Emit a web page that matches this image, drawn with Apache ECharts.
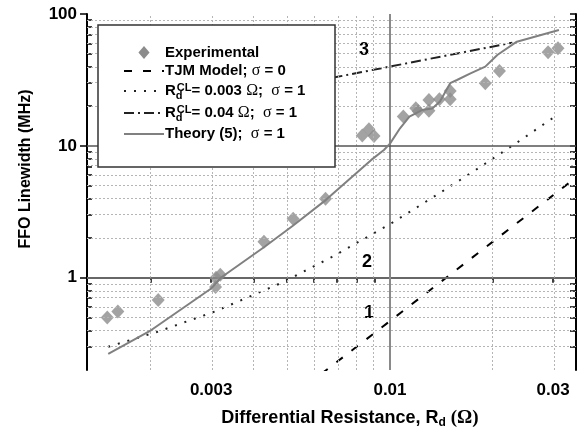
<!DOCTYPE html>
<html lang="en">
<head>
    <meta charset="UTF-8">
    <title>FFO Linewidth</title>
    <style>
        html, body { margin: 0; padding: 0; background: #fff; }
        #main { width: 587px; height: 436px; }
    </style>
    <script src="https://cdn.jsdelivr.net/npm/echarts@6/dist/echarts.min.js"></script>
</head>
<body>
<div id="main"></div>
<script>
    // experimental points (R_d in ohm, linewidth in MHz)
    const expR = [0.00149, 0.0016, 0.0021, 0.00309, 0.0031, 0.00319, 0.00428, 0.00521, 0.00648,
        0.0083, 0.00868, 0.00898, 0.01094, 0.0119, 0.0121, 0.0130, 0.0130, 0.01395,
        0.0150, 0.0150, 0.0190, 0.0209, 0.0290, 0.0310];
    const expF = [0.50, 0.556, 0.678, 0.85, 1.0, 1.054, 1.88, 2.80, 3.97,
        11.97, 13.4, 11.9, 16.7, 19.3, 18.3, 22.3, 18.5, 22.6,
        26.1, 22.6, 29.9, 37.0, 51.3, 55.0];

    const tjmR = [0.0063, 0.01, 0.02, 0.0355];
    const tjmF = [0.187, 0.47, 1.88, 5.92];

    const cl003R = [0.0015, 0.00208, 0.00308, 0.00487, 0.00675, 0.01, 0.01386, 0.01795, 0.02352, 0.0306];
    const cl003F = [0.30, 0.388, 0.556, 0.927, 1.435, 2.55, 4.33, 6.66, 10.6, 16.9];

    const cl04R = [0.004, 0.0069, 0.0228];
    const cl04F = [25.3, 33.1, 60.6];

    const theoryR = [0.0015, 0.002, 0.003, 0.0032, 0.0043, 0.0052, 0.0065, 0.0088, 0.0096, 0.0100,
        0.0107, 0.0114, 0.0124, 0.0133, 0.0140, 0.0150, 0.0157, 0.0172, 0.0190, 0.0206, 0.0235, 0.0312];
    const theoryF = [0.265, 0.40, 0.83, 1.0, 1.72, 2.48, 3.9, 7.8, 9.3, 10.4,
        13.6, 16.7, 18.7, 19.2, 21.7, 29.9, 31.6, 35.5, 39.9, 48.9, 61.7, 75.7];

    const xTickLabels = ['0.003', '0.01', '0.03'];
    const xGrid = [0.002, 0.003, 0.004, 0.005, 0.006, 0.007, 0.008, 0.009, 0.02, 0.03];
    const yTickLabels = ['1', '10', '100'];
    const yGrid = [0.3, 0.4, 0.5, 0.6, 0.7, 0.8, 0.9, 2, 3, 4, 5, 6, 7, 8, 9, 20, 30, 40, 50, 60, 70, 80, 90];

    const xMin = 0.0013, xMax = 0.035, yMin = 0.2, yMax = 100;

    const lg = Math.log10;
    const pairs = (xs, ys) => xs.map((x, i) => [lg(x), lg(ys[i])]);
    const nearestLabel = (labels) => (v) => {
        let best = labels[0], d = Infinity;
        labels.forEach(l => { const dd = Math.abs(lg(+l) - v); if (dd < d) { d = dd; best = l; } });
        return best;
    };

    const font = 'Liberation Sans, Arial, sans-serif';
    const xMajor = xTickLabels.map(v => lg(+v));
    const yMajor = yTickLabels.map(v => lg(+v));
    const xAll = xGrid.map(lg).concat([lg(0.01)]);
    const yAll = yGrid.map(lg).concat(yMajor);

    const names = ['Experimental', 'TJM Model; σ = 0', 'Rd CL = 0.003 Ω; σ = 1', 'Rd CL = 0.04 Ω; σ = 1', 'Theory (5); σ = 1'];
    const legendRich = {
        'Experimental': 'Experimental',
        'TJM Model; σ = 0': 'TJM Model; {s|σ} = 0',
        'Rd CL = 0.003 Ω; σ = 1': 'R{sub|d}{sup|CL}= 0.003 {s|Ω};  {s|σ} = 1',
        'Rd CL = 0.04 Ω; σ = 1': 'R{sub|d}{sup|CL}= 0.04 {s|Ω};  {s|σ} = 1',
        'Theory (5); σ = 1': 'Theory (5);  {s|σ} = 1'
    };
    const legendData = names.map((n, i) => i === 0
        ? { name: n, icon: 'path://M0,0L6,7L0,14L-6,7Z', itemStyle: { opacity: 1 } }
        : { name: n, itemStyle: { opacity: 0 } });

    let chart = echarts.init(document.getElementById('main'));
    let option = {
        animation: false,
        backgroundColor: '#fff',
        grid: { left: 87, right: 11, top: 14, bottom: 66 },
        legend: {
            z: 20,
            orient: 'vertical',
            left: 118,
            top: 40,
            itemWidth: 40,
            itemHeight: 13,
            itemGap: 3,
            symbolKeepAspect: true,
            data: legendData,
            formatter: n => legendRich[n],
            textStyle: {
                fontFamily: font, fontWeight: 'bold', fontSize: 15, color: '#000', padding: [0, 0, 0, -4],
                rich: {
                    s: { fontFamily: 'Liberation Serif, serif', fontSize: 16, fontWeight: 'normal', color: '#000' },
                    sub: { fontFamily: font, fontSize: 11, fontWeight: 'bold', padding: [9, 0, 0, 0], width: 1, color: '#000' },
                    sup: { fontFamily: font, fontSize: 11, fontWeight: 'bold', padding: [0, 0, 7, 0], color: '#000' }
                }
            }
        },
        graphic: [
            { type: 'rect', z: 10, shape: { x: 98, y: 25, width: 237, height: 142 },
              style: { fill: '#fff', stroke: '#333', lineWidth: 1.5 } },
            { type: 'text', x: 364, y: 50, style: { text: '3', font: 'bold 18px ' + font, fill: '#000', align: 'center', verticalAlign: 'middle' } },
            { type: 'text', x: 367, y: 262, style: { text: '2', font: 'bold 18px ' + font, fill: '#000', align: 'center', verticalAlign: 'middle' } },
            { type: 'text', x: 369, y: 313, style: { text: '1', font: 'bold 18px ' + font, fill: '#000', align: 'center', verticalAlign: 'middle' } }
        ],
        xAxis: [{
            type: 'value', position: 'bottom', min: lg(xMin), max: lg(xMax),
            axisLine: { lineStyle: { color: '#000', width: 2 } },
            axisTick: { customValues: xAll, inside: false, length: 5, lineStyle: { color: '#000', width: 1.5 } },
            axisLabel: { customValues: xMajor, formatter: nearestLabel(xTickLabels), margin: 12,
                fontFamily: font, fontWeight: 'bold', fontSize: 17, color: '#000' },
            splitLine: { show: false },
            name: 'Differential Resistance, R{sub|d} {s|(Ω)}',
            nameLocation: 'middle', nameGap: 37,
            nameTextStyle: {
                fontFamily: font, fontWeight: 'bold', fontSize: 18, color: '#000', padding: [0, 0, 0, 37],
                rich: {
                    sub: { fontFamily: font, fontWeight: 'bold', fontSize: 12, padding: [10, 0, 0, 0] },
                    s: { fontFamily: 'Liberation Serif, serif', fontSize: 19 }
                }
            }
        }, {
            type: 'value', position: 'top', min: lg(xMin), max: lg(xMax),
            axisLine: { lineStyle: { color: '#000', width: 2 } },
            axisTick: { customValues: xAll, inside: true, length: 5, lineStyle: { color: '#000', width: 1.5 } },
            axisLabel: { show: false },
            splitLine: { show: false }
        }],
        yAxis: [{
            type: 'value', position: 'left', min: lg(yMin), max: lg(yMax),
            axisLine: { lineStyle: { color: '#000', width: 2 } },
            axisTick: { customValues: yMajor, inside: false, length: 7, lineStyle: { color: '#000', width: 1.5 } },
            axisLabel: { customValues: yMajor, formatter: nearestLabel(yTickLabels), margin: 10,
                fontFamily: font, fontWeight: 'bold', fontSize: 17, color: '#000' },
            splitLine: { show: false },
            name: 'FFO Linewidth (MHz)',
            nameLocation: 'middle', nameGap: 53,
            nameTextStyle: { fontFamily: font, fontWeight: 'bold', fontSize: 16, color: '#000', padding: [0, 0, 0, 46] }
        }, {
            type: 'value', position: 'left', min: lg(yMin), max: lg(yMax),
            axisLine: { show: false },
            axisTick: { customValues: yGrid.map(lg), inside: true, length: 5, lineStyle: { color: '#000', width: 1.5 } },
            axisLabel: { show: false },
            splitLine: { show: false }
        }, {
            type: 'value', position: 'right', min: lg(yMin), max: lg(yMax),
            axisLine: { lineStyle: { color: '#000', width: 2 } },
            axisTick: { customValues: yAll, inside: true, length: 6, lineStyle: { color: '#000', width: 1.5 } },
            axisLabel: { show: false },
            splitLine: { show: false }
        }],
        series: [
            {
                // grid lines
                type: 'line', name: 'grid', z: 1, silent: true,
                data: [[lg(xMin), lg(yMin)]], symbol: 'none', lineStyle: { opacity: 0 },
                markLine: {
                    silent: true, symbol: 'none', label: { show: false },
                    emphasis: { disabled: true },
                    data: xGrid.map(v => ({ xAxis: lg(v), lineStyle: { color: '#b5b5b5', width: 1, type: [2, 2] } }))
                        .concat(yGrid.map(v => ({ yAxis: lg(v), lineStyle: { color: '#b5b5b5', width: 1, type: [2, 2] } })))
                        .concat([
                            { xAxis: lg(0.01), lineStyle: { color: '#8a8a8a', width: 2, type: 'solid' } },
                            { yAxis: lg(1), lineStyle: { color: '#8a8a8a', width: 1.5, type: 'solid' } },
                            { yAxis: lg(10), lineStyle: { color: '#555', width: 1.5, type: 'solid' } }
                        ])
                }
            },
            {
                name: names[0], type: 'scatter', z: 3,
                data: pairs(expR, expF), symbol: 'diamond', symbolSize: [13, 14],
                itemStyle: { color: '#8c8c8c' }
            },
            {
                name: names[1], type: 'line', z: 4, symbol: 'none',
                data: pairs(tjmR, tjmF),
                itemStyle: { color: '#000' },
                lineStyle: { color: '#000', width: 2, type: [8, 11] }
            },
            {
                name: names[2], type: 'line', z: 4, symbol: 'none',
                data: pairs(cl003R, cl003F),
                itemStyle: { color: '#222' },
                lineStyle: { color: '#222', width: 2, type: [2, 8] }
            },
            {
                name: names[3], type: 'line', z: 4, symbol: 'none',
                data: pairs(cl04R, cl04F),
                itemStyle: { color: '#222' },
                lineStyle: { color: '#222', width: 2, type: [10, 4, 2, 4] }
            },
            {
                name: names[4], type: 'line', z: 5, symbol: 'none',
                data: pairs(theoryR, theoryF),
                itemStyle: { color: '#808080' },
                lineStyle: { color: '#808080', width: 2 }
            }
        ]
    };
    option && chart.setOption(option);
</script>
</body>
</html>
